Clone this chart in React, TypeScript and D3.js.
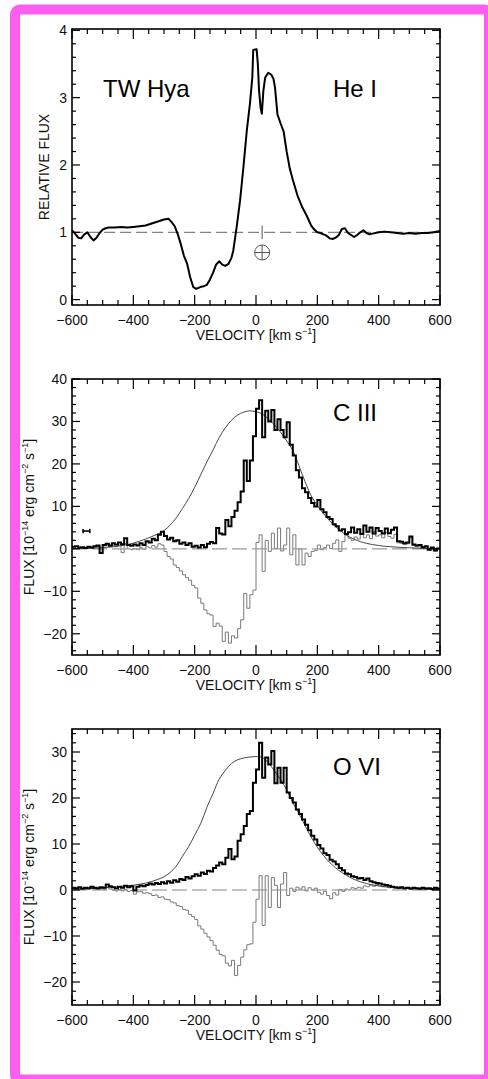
import React from "react";
import * as d3 from "d3";

// ---------- data ----------
const X_DOMAIN: [number, number] = [-600, 600];
const X_MAJOR = [-600, -400, -200, 0, 200, 400, 600];
const BIN_VEL = d3.range(-600, 600, 10); // histogram bin starts, km/s
const FIT_VEL = d3.range(-600, 601, 20);

const HEI_VEL = [-600,-590,-580,-570,-560,-550,-540,-530,-520,-510,-500,-490,-480,-460,-440,-420,-400,-380,-360,-340,-320,-300,-285,-275,-265,-255,-245,-235,-225,-215,-205,-195,-180,-170,-160,-150,-140,-130,-120,-110,-100,-90,-80,-74,-63,-52,-41,-30,-20,-12,-9,2,6,10,15,19,24,30,40,50,57,62,70,80,90,100,110,120,135,150,165,180,190,200,210,220,230,240,250,260,270,280,290,300,310,320,330,340,350,360,370,380,400,420,440,460,480,500,520,540,560,580,600];
const HEI_FLUX = [1.03,0.98,0.92,0.91,0.97,1.0,0.93,0.88,0.92,0.99,1.04,1.06,1.07,1.07,1.08,1.07,1.08,1.09,1.1,1.13,1.16,1.19,1.2,1.15,1.09,0.97,0.82,0.65,0.54,0.34,0.19,0.16,0.19,0.2,0.22,0.3,0.4,0.52,0.57,0.52,0.5,0.53,0.62,0.73,1.08,1.47,1.97,2.51,2.9,3.3,3.71,3.72,3.5,3.1,2.85,2.76,3.1,3.3,3.37,3.34,3.28,3.15,2.75,2.62,2.5,2.2,1.95,1.78,1.55,1.38,1.25,1.1,1.04,1.0,0.99,0.97,0.95,0.91,0.9,0.92,0.96,1.05,1.06,0.99,0.96,0.93,0.96,1.0,1.03,0.99,0.97,0.98,1.0,1.01,1.0,0.99,0.98,0.99,0.98,0.99,0.99,1.0,1.02];
const HEI_CONTINUUM = 1;
const EARTH_VEL = 20;
const EARTH_FLUX = 0.7;

const CIII_OBS = [
  0.5,0.6,0.3,0.4,0.2,0.5,0.3,0.6,0.8,-1.0,
  0.9,1.2,0.8,1.3,1.0,1.5,1.1,2.5,0.9,0.7,
  1.0,0.8,1.3,0.9,1.8,1.5,2.4,2.0,3.3,4.0,
  3.0,2.2,2.6,1.8,2.0,1.2,1.5,0.9,1.3,0.5,
  0.7,0.3,0.9,0.4,1.2,1.6,1.3,4.9,3.6,3.4,
  6.8,5.3,7.5,9.0,11.0,13.5,20.8,16.0,20.8,26.5,
  33.0,35.0,26.3,32.5,30.0,32.7,28.0,30.5,28.0,26.3,
  29.8,24.5,22.0,18.5,16.8,14.3,13.3,12.0,10.8,10.0,
  11.5,9.3,8.6,7.5,7.0,5.8,5.3,4.3,4.6,3.5,
  3.9,5.0,3.8,4.6,3.5,5.5,4.0,5.0,3.6,4.9,
  4.2,3.6,4.8,3.7,4.5,5.0,1.8,1.7,1.3,1.5,
  2.9,1.0,0.8,0.9,0.4,0.6,-0.2,0.3,-0.4,0.1
];
const CIII_RES = [
  0.4,0.5,0.2,0.3,0.1,0.4,0.2,0.5,0.6,-1.1,
  0.7,0.9,0.5,0.9,0.5,0.9,-0.9,1.3,0.0,-0.2,
  0.1,-0.2,0.3,-0.1,0.5,0.2,0.8,0.4,1.2,0.9,
  -0.6,-1.8,-2.4,-3.8,-4.4,-5.2,-6.1,-6.8,-7.4,-8.6,
  -9.2,-11.6,-12.8,-14.4,-15.3,-15.6,-18.3,-17.5,-18.2,-21.8,
  -19.6,-22.2,-20.5,-21.0,-18.8,-16.7,-10.5,-14.0,-10.8,-9.7,
  1.5,3.3,-5.3,2.0,-0.6,3.7,0.1,4.9,-0.5,0.9,
  4.9,-1.4,3.3,-3.8,0.0,-3.8,-1.0,-1.8,-0.6,-0.4,
  0.9,-0.2,0.3,0.9,0.1,1.3,2.1,-0.6,1.7,3.3,
  2.5,2.0,2.8,2.3,3.7,2.6,3.3,2.4,4.1,3.0,
  3.3,2.6,3.8,2.9,2.5,3.4,1.4,1.3,1.0,1.2,
  2.6,0.8,0.6,0.7,0.2,0.5,-0.3,0.2,-0.5,0.0
];
const CIII_FIT = [
  0.05,0.07,0.1,0.15,0.2,0.3,0.4,0.55,0.75,1.0,
  1.35,1.8,2.3,2.9,3.5,4.3,5.6,7.3,9.5,11.8,
  14.5,17.5,20.5,23.3,26.2,28.5,30.3,31.5,32.2,32.5,
  32.3,31.8,30.6,29.2,27.5,25.4,23.2,19.6,15.8,12.5,
  10.2,8.3,6.6,5.2,4.0,3.0,2.3,1.7,1.3,1.0,
  0.8,0.6,0.5,0.4,0.3,0.25,0.2,0.15,0.1,0.1,
  0.1
];
const CIII_ERR = { vel: -553, flux: 4.2, dVel: 11, dFlux: 0.5 };

const OVI_OBS = [
  0.5,0.4,0.6,0.3,0.5,0.4,0.7,0.5,0.4,0.6,
  0.5,1.2,0.8,0.6,0.4,0.7,0.5,0.9,0.6,0.8,
  -0.1,0.7,1.0,0.8,1.1,1.4,1.2,1.5,1.3,1.7,
  1.4,1.9,1.6,2.1,1.8,2.4,2.2,2.8,2.5,3.0,
  3.4,3.1,3.8,3.5,4.2,4.0,4.8,5.3,6.0,5.6,
  7.0,8.9,6.7,7.3,10.7,12.1,13.9,16.5,17.2,23.3,
  26.2,32.0,24.4,28.8,27.3,30.2,23.2,26.6,23.3,26.6,
  21.2,20.0,19.0,17.5,16.5,15.3,14.2,13.0,11.8,11.0,
  9.8,9.0,8.0,7.6,6.6,6.2,5.6,4.8,4.3,3.6,
  3.4,3.0,2.8,2.5,2.6,2.2,2.5,1.9,1.7,1.5,
  1.4,1.2,1.1,0.9,0.7,0.6,0.5,0.6,0.4,0.5,
  0.3,0.5,0.4,0.3,0.5,0.3,0.4,0.2,0.5,0.3
];
const OVI_RES = [
  0.3,0.2,0.4,0.1,0.3,0.2,0.4,0.2,0.1,0.3,
  0.1,0.6,0.2,0.0,-0.2,0.1,-0.2,0.1,-0.3,-0.1,
  -0.9,-0.4,-0.3,-0.7,-0.6,-0.8,-1.2,-1.1,-1.6,-1.5,
  -2.0,-2.1,-2.6,-2.8,-3.4,-3.6,-4.2,-4.4,-5.3,-5.8,
  -6.4,-7.8,-8.5,-9.4,-10.2,-11.0,-12.0,-13.1,-14.0,-14.3,
  -15.9,-16.5,-15.3,-18.6,-16.4,-14.6,-13.0,-11.9,-11.7,-7.0,
  -2.0,3.1,-7.7,3.1,-3.8,2.7,1.0,-3.8,1.3,3.8,
  -1.2,0.4,-0.3,0.6,0.2,0.7,-0.2,0.5,0.0,0.4,
  -0.5,-0.9,-0.3,-1.2,-1.9,-0.6,-1.1,0.1,-0.3,0.2,
  0.0,0.5,0.3,0.6,0.4,0.9,0.7,1.1,0.8,1.2,
  0.9,0.7,0.8,0.5,0.6,0.4,0.3,0.5,0.2,0.4,
  0.1,0.3,0.2,0.1,0.3,0.1,0.2,0.0,0.3,0.1
];
const OVI_FIT = [
  0.15,0.2,0.25,0.3,0.35,0.45,0.55,0.65,0.8,0.95,
  1.05,1.25,1.5,1.85,2.3,2.9,3.8,5.2,7.3,9.4,
  11.9,14.5,18.0,21.0,24.1,26.0,27.5,28.3,28.7,28.9,
  29.0,28.8,27.7,25.9,24.0,21.8,19.0,16.6,14.0,11.5,
  9.3,7.5,6.0,4.8,3.8,3.0,2.3,1.8,1.4,1.1,
  0.9,0.7,0.55,0.45,0.35,0.3,0.25,0.2,0.2,0.15,
  0.15
];

// ---------- rendering ----------
const FONT = "'Liberation Sans', Arial, Helvetica, sans-serif";
const fmt = (v: number) => (v < 0 ? "\u2212" + Math.abs(v) : String(v));

function minorTicks(d0: number, d1: number, step: number) {
  const n0 = Math.ceil(d0 / step - 1e-9);
  const n1 = Math.floor(d1 / step + 1e-9);
  return d3.range(n0, n1 + 1).map((i) => +(i * step).toFixed(6));
}

type PanelDef = {
  id: string;
  top: number;
  bottom: number;
  yDomain: [number, number];
  yMajor: number[];
  yMinorStep: number;
};

const L = 72;
const R = 440;

function Frame({ p, x, y }: { p: PanelDef; x: d3.ScaleLinear<number, number>; y: d3.ScaleLinear<number, number> }) {
  const xMinor = minorTicks(-600, 600, 50);
  const yMinor = minorTicks(p.yDomain[0], p.yDomain[1], p.yMinorStep);
  const isMajX = (v: number) => X_MAJOR.includes(v);
  const isMajY = (v: number) => p.yMajor.some((m) => Math.abs(m - v) < 1e-6);
  return (
    <g>
      {xMinor.map((v) => {
        const len = isMajX(v) ? 10 : 5;
        return (
          <g key={"xt" + v}>
            <line x1={x(v)} x2={x(v)} y1={p.bottom} y2={p.bottom - len} stroke="#000" strokeWidth={1.2} />
            <line x1={x(v)} x2={x(v)} y1={p.top} y2={p.top + len} stroke="#000" strokeWidth={1.2} />
          </g>
        );
      })}
      {yMinor.map((v) => {
        const len = isMajY(v) ? 8 : 4;
        return (
          <g key={"yt" + v}>
            <line x1={L} x2={L + len} y1={y(v)} y2={y(v)} stroke="#000" strokeWidth={1.2} />
            <line x1={R} x2={R - len} y1={y(v)} y2={y(v)} stroke="#000" strokeWidth={1.2} />
          </g>
        );
      })}
      <rect x={L} y={p.top} width={R - L} height={p.bottom - p.top} fill="none" stroke="#000" strokeWidth={1.6} />
      {X_MAJOR.map((v) => (
        <text key={"xl" + v} x={x(v)} y={p.bottom + 20} textAnchor="middle" fontSize={14} fontFamily={FONT} fill="#111">
          {fmt(v)}
        </text>
      ))}
      {p.yMajor.map((v) => (
        <text key={"yl" + v} x={67} y={y(v) + 5} textAnchor="end" fontSize={14} fontFamily={FONT} fill="#111">
          {fmt(v)}
        </text>
      ))}
      <text x={(L + R) / 2} y={p.bottom + 35} textAnchor="middle" fontSize={14} fontFamily={FONT} fill="#111">
        VELOCITY [km s<tspan dy={-6} fontSize={9}>{"\u22121"}</tspan>
        <tspan dy={6}>]</tspan>
      </text>
    </g>
  );
}

function FluxLabel({ cx, cy }: { cx: number; cy: number }) {
  return (
    <text transform={`translate(${cx},${cy}) rotate(-90)`} textAnchor="middle" fontSize={14} fontFamily={FONT} fill="#111">
      FLUX [10<tspan dy={-6} fontSize={9}>{"\u221214"}</tspan>
      <tspan dy={6}> erg cm</tspan>
      <tspan dy={-6} fontSize={9}>{"\u22122"}</tspan>
      <tspan dy={6}> s</tspan>
      <tspan dy={-6} fontSize={9}>{"\u22121"}</tspan>
      <tspan dy={6}>]</tspan>
    </text>
  );
}

export default function App() {
  const x = d3.scaleLinear().domain(X_DOMAIN).range([L, R]);

  const pHe: PanelDef = { id: "he", top: 29, bottom: 305, yDomain: [-0.08, 4.02], yMajor: [0, 1, 2, 3, 4], yMinorStep: 0.2 };
  const pC: PanelDef = { id: "c3", top: 379, bottom: 655, yDomain: [-25, 40], yMajor: [-20, -10, 0, 10, 20, 30, 40], yMinorStep: 2 };
  const pO: PanelDef = { id: "o6", top: 729, bottom: 1005, yDomain: [-25, 35], yMajor: [-20, -10, 0, 10, 20, 30], yMinorStep: 2 };

  const yOf = (p: PanelDef) => d3.scaleLinear().domain(p.yDomain).range([p.bottom, p.top]);
  const yHe = yOf(pHe);
  const yC = yOf(pC);
  const yO = yOf(pO);

  const histPath = (vals: number[], y: d3.ScaleLinear<number, number>) => {
    const pts: [number, number][] = BIN_VEL.map((v, i) => [v, vals[i]]);
    pts.push([600, vals[vals.length - 1]]);
    return d3
      .line<[number, number]>()
      .x((d) => x(d[0]))
      .y((d) => y(d[1]))
      .curve(d3.curveStepAfter)(pts) as string;
  };
  const smoothPath = (vs: number[], vals: number[], y: d3.ScaleLinear<number, number>, curve: d3.CurveFactory) =>
    d3
      .line<number>()
      .x((_, i) => x(vs[i]))
      .y((d) => y(d))
      .curve(curve)(vals) as string;

  const clip = (p: PanelDef) => (
    <clipPath id={"clip-" + p.id}>
      <rect x={L} y={p.top} width={R - L} height={p.bottom - p.top} />
    </clipPath>
  );

  const ex = x(EARTH_VEL);
  const ey = yHe(EARTH_FLUX);
  const er = 7.5;

  return (
    <svg width={488} height={1079} style={{ position: "absolute", left: 0, top: 0 }} xmlns="http://www.w3.org/2000/svg">
      <defs>
        {clip(pHe)}
        {clip(pC)}
        {clip(pO)}
      </defs>
      <rect x={15} y={9.5} width={474} height={1070} rx={5} fill="#fff" stroke="#fc5ff0" strokeWidth={10} />

      {/* ---- He I ---- */}
      <g clipPath="url(#clip-he)">
        <line x1={L} x2={R} y1={yHe(HEI_CONTINUUM)} y2={yHe(HEI_CONTINUUM)} stroke="#666" strokeWidth={1} strokeDasharray="11 5" />
        <path d={smoothPath(HEI_VEL, HEI_FLUX, yHe, d3.curveLinear)} fill="none" stroke="#000" strokeWidth={2} strokeLinejoin="round" />
      </g>
      <line x1={ex} x2={ex} y1={yHe(1.1)} y2={yHe(0.9)} stroke="#555" strokeWidth={1} />
      <circle cx={ex} cy={ey} r={er} fill="none" stroke="#555" strokeWidth={1} />
      <line x1={ex - er} x2={ex + er} y1={ey} y2={ey} stroke="#555" strokeWidth={1} />
      <line x1={ex} x2={ex} y1={ey - er} y2={ey + er} stroke="#555" strokeWidth={1} />
      <Frame p={pHe} x={x} y={yHe} />
      <text transform={`translate(49,${(pHe.top + pHe.bottom) / 2}) rotate(-90)`} textAnchor="middle" fontSize={14} fontFamily={FONT} fill="#111">
        RELATIVE FLUX
      </text>
      <text x={103} y={97} fontSize={24} fontFamily={FONT} fill="#000">TW Hya</text>
      <text x={333} y={97} fontSize={24} fontFamily={FONT} fill="#000">He I</text>

      {/* ---- C III ---- */}
      <g clipPath="url(#clip-c3)">
        <path d={histPath(CIII_RES, yC)} fill="none" stroke="#7a7a7a" strokeWidth={1} />
        <line x1={L} x2={R} y1={yC(0)} y2={yC(0)} stroke="#999" strokeWidth={1.2} strokeDasharray="15 5" />
        <path d={smoothPath(FIT_VEL, CIII_FIT, yC, d3.curveCatmullRom)} fill="none" stroke="#333" strokeWidth={0.9} />
        <path d={histPath(CIII_OBS, yC)} fill="none" stroke="#000" strokeWidth={2} />
      </g>
      <g stroke="#000" strokeWidth={1.6}>
        <line x1={x(CIII_ERR.vel - CIII_ERR.dVel)} x2={x(CIII_ERR.vel + CIII_ERR.dVel)} y1={yC(CIII_ERR.flux)} y2={yC(CIII_ERR.flux)} />
        <line x1={x(CIII_ERR.vel - CIII_ERR.dVel)} x2={x(CIII_ERR.vel - CIII_ERR.dVel)} y1={yC(CIII_ERR.flux - CIII_ERR.dFlux)} y2={yC(CIII_ERR.flux + CIII_ERR.dFlux)} />
        <line x1={x(CIII_ERR.vel + CIII_ERR.dVel)} x2={x(CIII_ERR.vel + CIII_ERR.dVel)} y1={yC(CIII_ERR.flux - CIII_ERR.dFlux)} y2={yC(CIII_ERR.flux + CIII_ERR.dFlux)} />
      </g>
      <Frame p={pC} x={x} y={yC} />
      <FluxLabel cx={34} cy={(pC.top + pC.bottom) / 2} />
      <text x={333} y={421} fontSize={24} fontFamily={FONT} fill="#000">C III</text>

      {/* ---- O VI ---- */}
      <g clipPath="url(#clip-o6)">
        <path d={histPath(OVI_RES, yO)} fill="none" stroke="#7a7a7a" strokeWidth={1} />
        <line x1={L} x2={R} y1={yO(0)} y2={yO(0)} stroke="#888" strokeWidth={1.2} strokeDasharray="15 5" />
        <path d={smoothPath(FIT_VEL, OVI_FIT, yO, d3.curveCatmullRom)} fill="none" stroke="#333" strokeWidth={0.9} />
        <path d={histPath(OVI_OBS, yO)} fill="none" stroke="#000" strokeWidth={2} />
      </g>
      <Frame p={pO} x={x} y={yO} />
      <FluxLabel cx={34} cy={(pO.top + pO.bottom) / 2} />
      <text x={333} y={775} fontSize={24} fontFamily={FONT} fill="#000">O VI</text>
    </svg>
  );
}
